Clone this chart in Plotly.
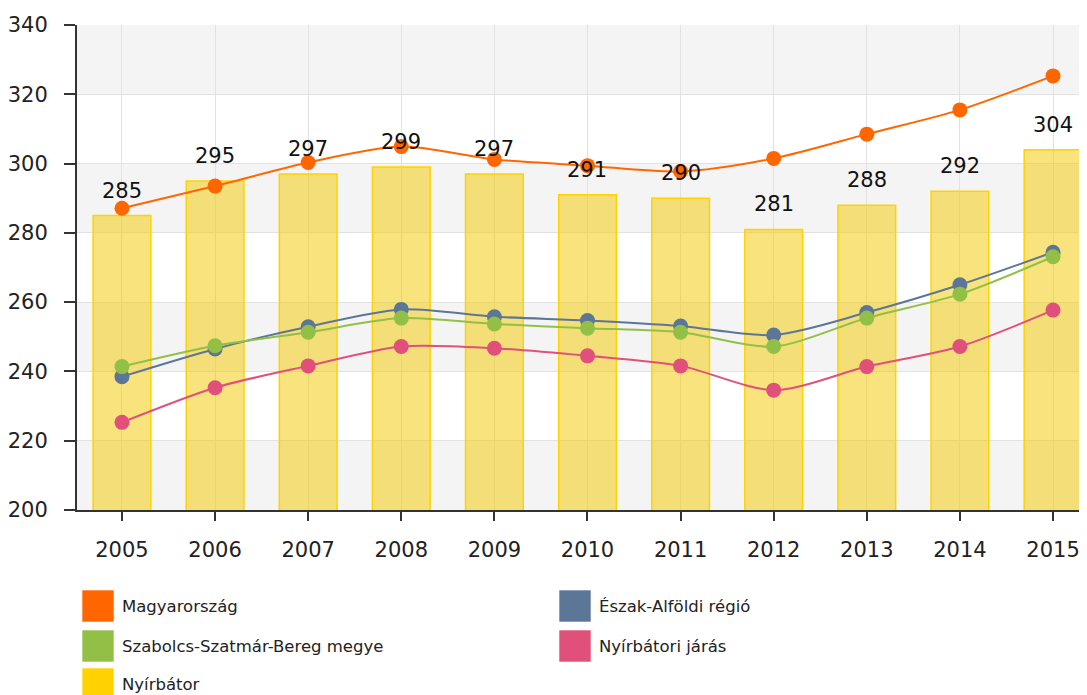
import plotly.graph_objects as go

years = ["2005", "2006", "2007", "2008", "2009", "2010", "2011", "2012", "2013", "2014", "2015"]
nyirbator = [285, 295, 297, 299, 297, 291, 290, 281, 288, 292, 304]
magyarorszag = [287.1, 293.5, 300.3, 304.9, 301.2, 299.4, 297.7, 301.5, 308.5, 315.5, 325.3]
eszak_alfold = [238.5, 246.5, 252.9, 257.9, 255.8, 254.7, 253.1, 250.5, 257.0, 265.0, 274.4]
szabolcs = [241.4, 247.4, 251.3, 255.4, 253.7, 252.5, 251.3, 247.2, 255.4, 262.3, 273.1]
nyirbatori_jaras = [225.3, 235.3, 241.6, 247.2, 246.7, 244.5, 241.6, 234.6, 241.4, 247.2, 257.7]

series_names = ["Magyarország", "Észak-Alföldi régió", "Szabolcs-Szatmár-Bereg megye",
                "Nyírbátori járás", "Nyírbátor"]
series_colors = ["#ff6600", "#5c7698", "#92c046", "#e0507a", "#ffd200"]

OFF = 8  # page body margin
W, H = 1087 - OFF, 695 - OFF
ML, MR, MT, MB = 77 - OFF, 0, 25 - OFF, 185
PW, PH = W - ML - MR, H - MT - MB

fig = go.Figure()

fig.add_trace(go.Bar(
    x=years, y=nyirbator, name="Nyírbátor", width=0.62,
    marker=dict(color="rgba(242,202,10,0.53)", line=dict(color="#ffd200", width=1.5)),
    hoverinfo="x+y",
))

line_series = [
    (magyarorszag, 0),
    (eszak_alfold, 1),
    (szabolcs, 2),
    (nyirbatori_jaras, 3),
]
for vals, i in line_series:
    fig.add_trace(go.Scatter(
        x=years, y=vals, name=series_names[i], mode="lines+markers",
        line=dict(color=series_colors[i], width=2, shape="spline", smoothing=0.8),
        marker=dict(color=series_colors[i], size=15),
    ))

# bar value labels
for idx, v in enumerate(nyirbator):
    fig.add_annotation(x=idx, y=v, text=str(v), showarrow=False, yanchor="bottom",
                       yshift=11, font=dict(family="DejaVu Sans", size=21, color="#111"))

# alternating background bands
for lo in [200, 240, 280, 320]:
    fig.add_shape(type="rect", xref="paper", yref="y", x0=0, x1=1, y0=lo, y1=lo + 20,
                  fillcolor="#f4f4f4", line=dict(width=0), layer="below")

# manual legend (positions in page pixels)
def px_to_paper(px, py):
    return (px - OFF - ML) / PW, (MT + PH - (py - OFF)) / PH

legend_pos = [(82, 606), (559, 606), (82, 646), (559, 646), (82, 684)]
for (lx, ly), idx in zip(legend_pos, range(5)):
    x0, y0 = px_to_paper(lx, ly + 16)
    x1, y1 = px_to_paper(lx + 32, ly - 16)
    fig.add_shape(type="rect", xref="paper", yref="paper", x0=x0, x1=x1, y0=y0, y1=y1,
                  fillcolor=series_colors[idx], line=dict(color="rgba(255,255,255,0.6)", width=1))
    tx, ty = px_to_paper(lx + 38, ly)
    fig.add_annotation(xref="paper", yref="paper", x=tx, y=ty, text=series_names[idx],
                       showarrow=False, xanchor="left", yanchor="middle",
                       font=dict(family="DejaVu Sans", size=16.5, color="#222"))

fig.update_layout(
    width=W, height=H,
    margin=dict(l=ML, r=MR, t=MT, b=MB),
    plot_bgcolor="white", paper_bgcolor="white",
    showlegend=False,
    font=dict(family="DejaVu Sans", size=21, color="#222"),
)
fig.update_xaxes(
    type="category", range=[-0.483, 10.365],
    showgrid=True, gridcolor="#e2e2e2", gridwidth=1,
    showline=True, linecolor="#333", linewidth=2,
    ticks="outside", ticklen=9, tickcolor="#333", tickwidth=2,
    ticklabelstandoff=11,
    tickfont=dict(family="DejaVu Sans", size=21, color="#222"),
)
fig.update_yaxes(
    range=[200, 340], dtick=20, tick0=200,
    showgrid=True, gridcolor="#e2e2e2", gridwidth=1,
    showline=True, linecolor="#333", linewidth=2,
    ticks="outside", ticklen=11, tickcolor="#333", tickwidth=2,
    ticklabelstandoff=12, zeroline=False,
    tickfont=dict(family="DejaVu Sans", size=21, color="#222"),
)

fig.write_html("out.html")
